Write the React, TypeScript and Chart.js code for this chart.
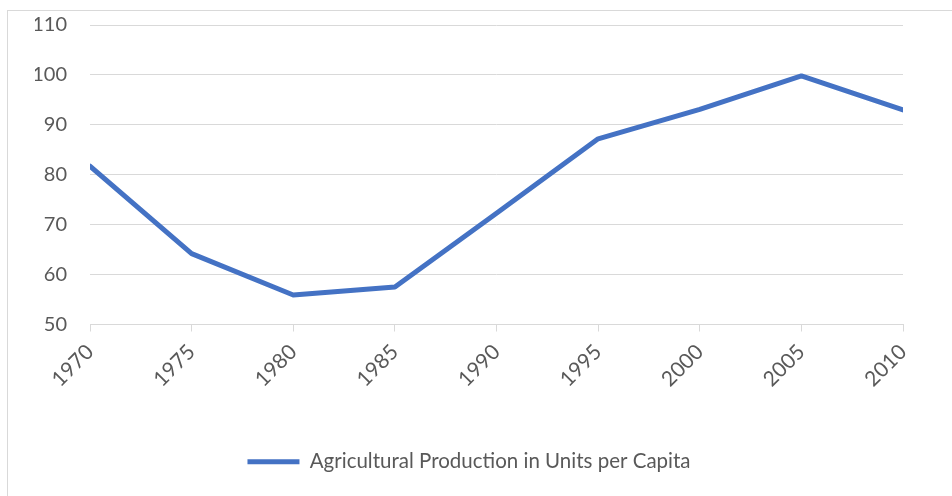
import React, { useEffect, useRef } from "react";
import { Chart, registerables } from "chart.js";

Chart.register(...registerables);

const years: string[] = ["1970", "1975", "1980", "1985", "1990", "1995", "2000", "2005", "2010"];
const production: number[] = [81.7, 64.2, 55.9, 57.5, 72.3, 87.2, 93.1, 99.8, 93.0];
const seriesLabel = "Agricultural Production in Units per Capita";
const yMin = 50;
const yMax = 110;
const yStep = 10;

const FONT = "Lato";
const TEXT = "#595959";
const GRID = "#d9d9d9";
const BLUE = "#4472C4";

const borderPlugin = {
  id: "outerBorder",
  beforeDraw(chart: any) {
    const ctx = chart.ctx;
    ctx.save();
    ctx.strokeStyle = GRID;
    ctx.lineWidth = 1;
    ctx.strokeRect(7.5, 10.5, 2000, 2000);
    ctx.restore();
  },
};

export default function App() {
  const ref = useRef<HTMLCanvasElement | null>(null);
  useEffect(() => {
    if (!ref.current) return;
    const chart = new Chart(ref.current, {
      type: "line",
      data: {
        labels: years,
        datasets: [
          {
            label: seriesLabel,
            data: production,
            borderColor: BLUE,
            backgroundColor: BLUE,
            borderWidth: 5,
            pointRadius: 0,
            tension: 0,
            borderCapStyle: "round",
            borderJoinStyle: "round",
            clip: 0,
          } as any,
        ],
      },
      options: {
        animation: false,
        responsive: false,
        layout: { padding: { left: 35, right: 49, top: 25, bottom: 14 } },
        plugins: {
          legend: {
            position: "bottom",
            labels: {
              usePointStyle: true,
              pointStyle: "line",
              pointStyleWidth: 52,
              color: TEXT,
              font: { family: FONT, size: 20.5 },
              padding: 10,
            },
          },
          tooltip: { enabled: false },
        },
        scales: {
          x: {
            offset: false,
            grid: {
              display: true,
              drawOnChartArea: false,
              drawTicks: true,
              tickLength: 7,
              color: GRID,
            },
            border: { display: true, color: GRID },
            ticks: {
              color: TEXT,
              font: { family: FONT, size: 21 },
              maxRotation: 45,
              minRotation: 45,
              padding: 8,
              autoSkip: false,
            },
            afterFit(scale: any) {
              scale.height = 117;
            },
          },
          y: {
            min: yMin,
            max: yMax,
            grid: { color: GRID, drawTicks: false },
            border: { display: false },
            ticks: {
              stepSize: yStep,
              color: TEXT,
              font: { family: FONT, size: 20 },
              padding: 23,
            },
            afterFit(scale: any) {
              scale.width = 55;
              scale.paddingTop = 10;
              scale.paddingBottom = 10;
            },
          },
        },
      },
      plugins: [borderPlugin],
    });
    return () => chart.destroy();
  }, []);
  return (
    <div style={{ position: "absolute", left: 0, top: 0, width: 952, height: 496 }}>
      <canvas ref={ref} width={952} height={496} />
    </div>
  );
}
